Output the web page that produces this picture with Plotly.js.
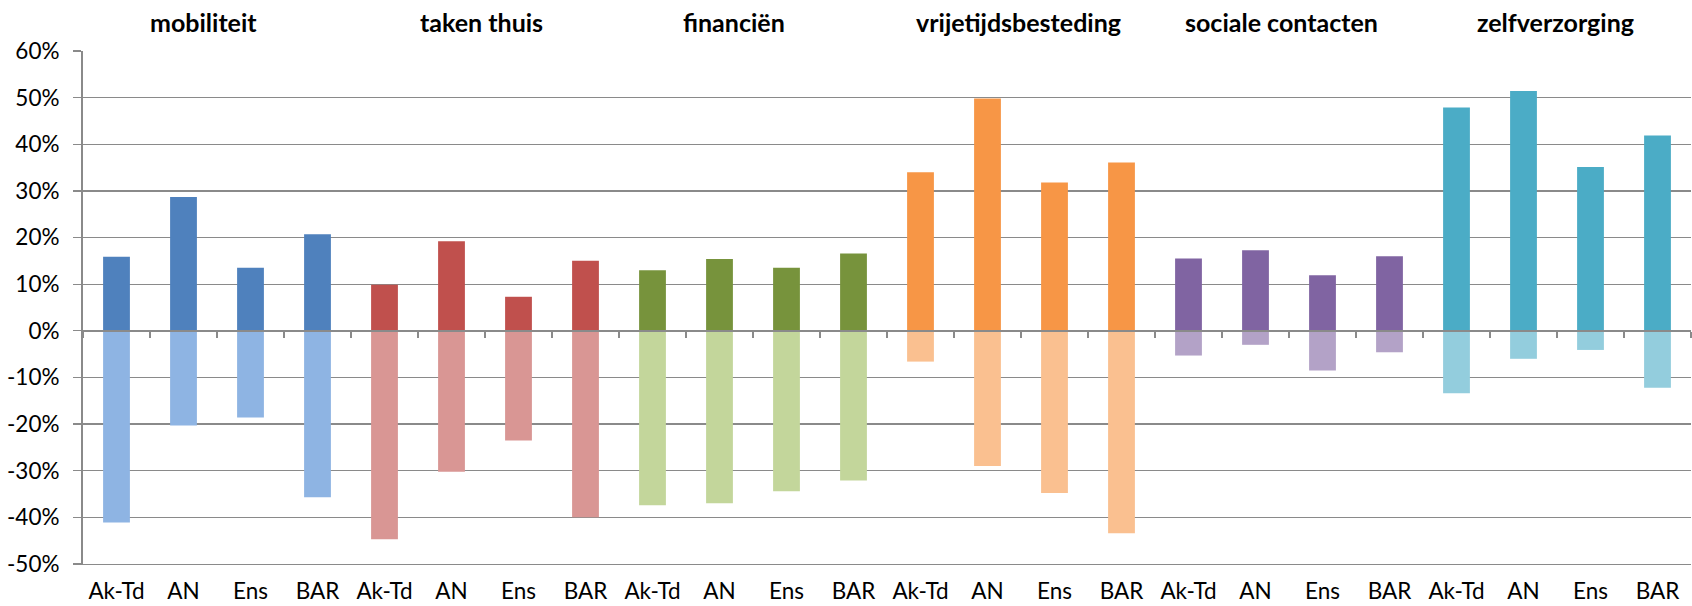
<!DOCTYPE html>
<html>
<head>
<meta charset="utf-8">
<script src="https://cdn.plot.ly/plotly-3.0.1.min.js"></script>
<style>html,body{margin:0;padding:0;background:#fff;}#chart{width:1692px;height:606px;}</style>
</head>
<body>
<div id="chart"></div>
<script>
// Data (percent)
const groups = ['mobiliteit', 'taken thuis', 'financiën', 'vrijetijdsbesteding', 'sociale contacten', 'zelfverzorging'];
const subLabels = ['Ak-Td', 'AN', 'Ens', 'BAR'];

const posMobiliteit = [15.9, 28.7, 13.5, 20.7];
const posTaken      = [9.9, 19.2, 7.3, 15.0];
const posFinancien  = [13.0, 15.4, 13.5, 16.6];
const posVrije      = [34.0, 49.8, 31.8, 36.1];
const posSociale    = [15.5, 17.3, 11.9, 16.0];
const posZelf       = [47.9, 51.4, 35.1, 41.9];

const negMobiliteit = [-41.1, -20.3, -18.6, -35.7];
const negTaken      = [-44.7, -30.2, -23.5, -40.0];
const negFinancien  = [-37.4, -37.0, -34.4, -32.1];
const negVrije      = [-6.6, -29.0, -34.8, -43.4];
const negSociale    = [-5.3, -3.0, -8.5, -4.6];
const negZelf       = [-13.4, -6.0, -4.1, -12.2];

const yTicks = [60, 50, 40, 30, 20, 10, 0, -10, -20, -30, -40, -50];

// Styling
const darkColors  = ['#4F81BD', '#C0504D', '#77933C', '#F79646', '#8064A2', '#4BACC6'];
const lightColors = ['#8EB4E3', '#D99694', '#C3D69B', '#FAC090', '#B3A2C7', '#93CDDD'];
const titleX = [1.3, 5.45, 9.22, 13.47, 17.39, 21.48];

const posAll = [posMobiliteit, posTaken, posFinancien, posVrije, posSociale, posZelf];
const negAll = [negMobiliteit, negTaken, negFinancien, negVrije, negSociale, negZelf];

const xs = [], labels = [], posY = [], negY = [], posC = [], negC = [];
groups.forEach((g, gi) => {
  subLabels.forEach((s, si) => {
    xs.push(gi * subLabels.length + si);
    labels.push(s);
    posY.push(posAll[gi][si]);
    negY.push(negAll[gi][si]);
    posC.push(darkColors[gi]);
    negC.push(lightColors[gi]);
  });
});
const n = xs.length;
const boundaries = [];
for (let i = 0; i <= n; i++) boundaries.push(i - 0.5);

const font = 'Lato, "Open Sans", "Liberation Sans", sans-serif';
const grid = '#8a8a8a';

const traces = [
  {type: 'bar', x: xs, y: negY, xaxis: 'x2', yaxis: 'y', width: 0.4, marker: {color: negC, line: {width: 0}}, hoverinfo: 'x+y'},
  {type: 'bar', x: xs, y: posY, xaxis: 'x', yaxis: 'y', width: 0.4, marker: {color: posC, line: {width: 0}}, hoverinfo: 'x+y'}
];

const annotations = groups.map((g, i) => ({
  text: '<b>' + g + '</b>', x: titleX[i], xref: 'x', y: 1.057, yref: 'paper',
  xanchor: 'center', yanchor: 'middle', showarrow: false,
  font: {family: font, size: 25, color: '#000'}
}));

const layout = {
  width: 1692, height: 606,
  margin: {l: 83, r: 1, t: 51, b: 42},
  paper_bgcolor: '#fff', plot_bgcolor: '#fff',
  barmode: 'overlay',
  showlegend: false,
  font: {family: font, size: 22, color: '#000'},
  xaxis: {
    range: [-0.5, n - 0.5], anchor: 'free', position: 50 / 110,
    tickvals: boundaries, ticks: 'outside', ticklen: 6, tickwidth: 1.5, tickcolor: grid,
    showticklabels: false, showline: true, linecolor: grid, linewidth: 2,
    showgrid: false, zeroline: false, fixedrange: true
  },
  xaxis2: {
    range: [-0.5, n - 0.5], overlaying: 'x', anchor: 'y', side: 'bottom',
    tickvals: xs, ticktext: labels, ticks: '', showline: true, linecolor: grid, linewidth: 1.3,
    showgrid: false, zeroline: false,
    ticklabelstandoff: 7, tickfont: {family: font, size: 22.5, color: '#000'}, fixedrange: true
  },
  yaxis: {
    range: [-50, 60], tickvals: yTicks, ticktext: yTicks.map(v => v + '%'),
    showgrid: true, gridcolor: grid, gridwidth: 1.3,
    zeroline: false, showline: true, linecolor: grid, linewidth: 2,
    ticks: 'outside', ticklen: 8, tickcolor: grid, tickwidth: 1.3,
    ticklabelstandoff: 9, tickfont: {family: font, size: 22.5, color: '#000'}, fixedrange: true
  },
  annotations: annotations
};

Plotly.newPlot('chart', traces, layout, {displayModeBar: false, staticPlot: true});
</script>
</body>
</html>
